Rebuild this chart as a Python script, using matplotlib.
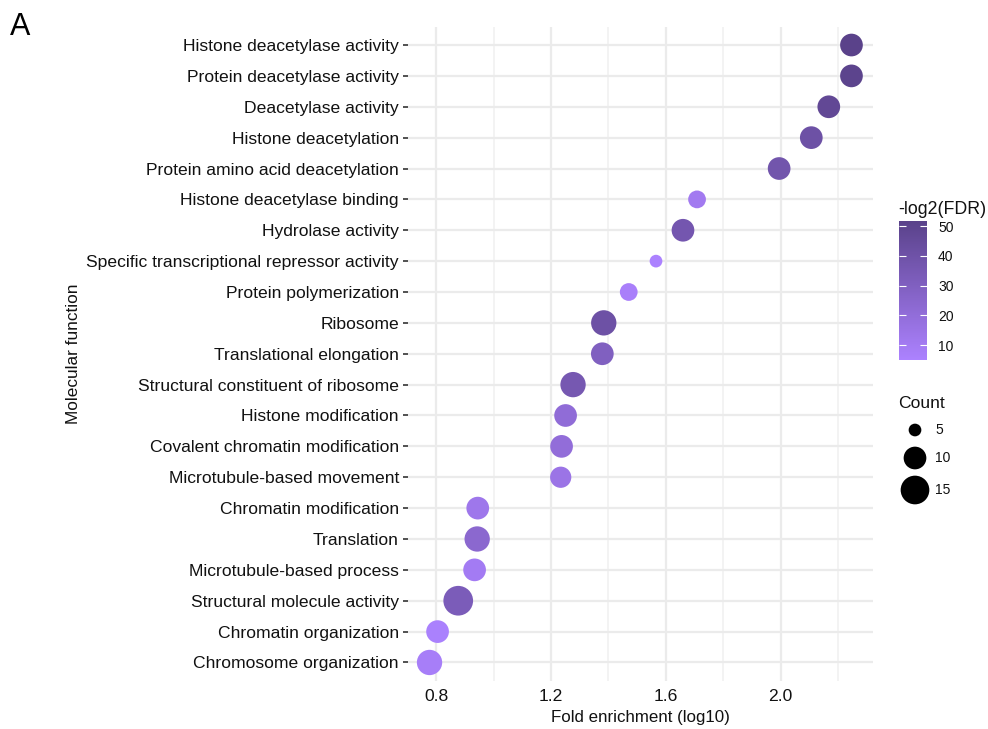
import matplotlib
matplotlib.use("Agg")
import matplotlib.pyplot as plt
import numpy as np
from matplotlib.colors import LinearSegmentedColormap, Normalize
from matplotlib.cm import ScalarMappable

plt.rcParams['font.family'] = ['Liberation Sans', 'DejaVu Sans']

terms = [
    "Histone deacetylase activity",
    "Protein deacetylase activity",
    "Deacetylase activity",
    "Histone deacetylation",
    "Protein amino acid deacetylation",
    "Histone deacetylase binding",
    "Hydrolase activity",
    "Specific transcriptional repressor activity",
    "Protein polymerization",
    "Ribosome",
    "Translational elongation",
    "Structural constituent of ribosome",
    "Histone modification",
    "Covalent chromatin modification",
    "Microtubule-based movement",
    "Chromatin modification",
    "Translation",
    "Microtubule-based process",
    "Structural molecule activity",
    "Chromatin organization",
    "Chromosome organization",
]
fold_log10 = [2.247, 2.247, 2.168, 2.107, 1.995, 1.709, 1.660, 1.566, 1.471,
              1.384, 1.379, 1.277, 1.251, 1.237, 1.234, 0.945, 0.943, 0.934,
              0.877, 0.805, 0.777]
neg_log2_fdr = [51.7, 50.5, 47.0, 41.0, 38.0, 11.0, 37.0, 5.0, 7.0,
                41.0, 30.0, 36.0, 21.0, 20.0, 15.0, 13.0, 24.0, 10.0,
                33.0, 6.0, 8.0]
counts = [10, 10, 10, 10, 10, 7, 10, 5, 7,
          12, 10, 12, 10, 10, 9, 10, 12, 10,
          16, 10, 12]
legend_counts = [5, 10, 15]
cbar_ticks = [10, 20, 30, 40, 50]
x_ticks = [0.8, 1.2, 1.6, 2.0]
x_minor = [1.0, 1.4, 1.8, 2.2]

W, H, DPI = 988, 729, 100
fig = plt.figure(figsize=(W / DPI, H / DPI), dpi=DPI)
fig.patch.set_facecolor('white')

cmin, cmax = 4.0, 16.0
def diam_px(c):
    c = np.asarray(c, dtype=float)
    return 5.8 + 23.9 * np.sqrt(np.clip((c - cmin) / (cmax - cmin), 0, None))
def size_pts2(c):
    return (diam_px(c) * 72.0 / DPI) ** 2

cmap = LinearSegmentedColormap.from_list("purp", ["#AC82FF", "#5A428A"])
norm = Normalize(vmin=min(neg_log2_fdr), vmax=max(neg_log2_fdr))

def fx(px): return px / W
def fy(py): return 1 - py / H

L, R, T, B = 408, 873, 26.5, 681
ax = fig.add_axes([fx(L), fy(B), fx(R) - fx(L), fy(T) - fy(B)])
n = len(terms)
ypos = np.arange(n)[::-1]
ax.scatter(fold_log10, ypos, s=size_pts2(counts), c=neg_log2_fdr, cmap=cmap,
           norm=norm, linewidths=0, zorder=3)
ax.set_ylim(-0.6, n - 1 + 0.6)
ax.set_xlim(0.702, 2.322)
ax.set_yticks(ypos)
ax.set_yticklabels(terms, fontsize=12.6, color='#111111')
ax.set_xticks(x_ticks)
ax.set_xticklabels([f"{v:.1f}" for v in x_ticks], fontsize=12.6, color='#111111')
ax.set_xticks(x_minor, minor=True)
for v in x_ticks:
    ax.axvline(v, color='#EBEBEB', lw=1.6, zorder=0)
for v in x_minor:
    ax.axvline(v, color='#F0F0F0', lw=1.1, zorder=0)
for y in ypos:
    ax.axhline(y, color='#EBEBEB', lw=1.6, zorder=0)
for s in ax.spines.values():
    s.set_visible(False)
ax.tick_params(axis='y', length=3.5, width=1.2, color='#333333', pad=3)
ax.tick_params(axis='x', which='both', length=0, pad=6)
ax.set_xlabel("Fold enrichment (log10)", fontsize=12.2, color='#111111', labelpad=4)
ax.set_ylabel("Molecular function", fontsize=12.4, color='#111111', labelpad=4)

fig.text(fx(10), fy(27), "A", fontsize=22, va='center', ha='left', color='black')

# colorbar
cax = fig.add_axes([fx(899), fy(360), fx(28), fy(0) - fy(139)])
cb = fig.colorbar(ScalarMappable(norm=norm, cmap=cmap), cax=cax)
cb.outline.set_visible(False)
cb.set_ticks(cbar_ticks)
cb.set_ticklabels([str(t) for t in cbar_ticks])
cax.tick_params(axis='y', direction='in', color='white', length=5, width=0.8,
                left=True, right=True, labelsize=10, labelcolor='#111111', pad=8)
fig.text(fx(898), fy(210), "-log2(FDR)", fontsize=12.8, va='center', ha='left', color='#111111')

# size legend
fig.text(fx(898), fy(404), "Count", fontsize=12.6, va='center', ha='left', color='#111111')
lax = fig.add_axes([fx(895), fy(510), fx(80), fy(0) - fy(95)])
lax.set_xlim(0, 80)
lax.set_ylim(95, 0)
lax.axis('off')
ly = [15, 43, 75]
lax.scatter([20] * 3, ly, s=size_pts2(legend_counts), color='black', linewidths=0)
for yy, c in zip(ly, legend_counts):
    lax.text(40, yy, str(c), fontsize=10, va='center', ha='left', color='#111111')

fig.savefig("out.png", dpi=DPI)
